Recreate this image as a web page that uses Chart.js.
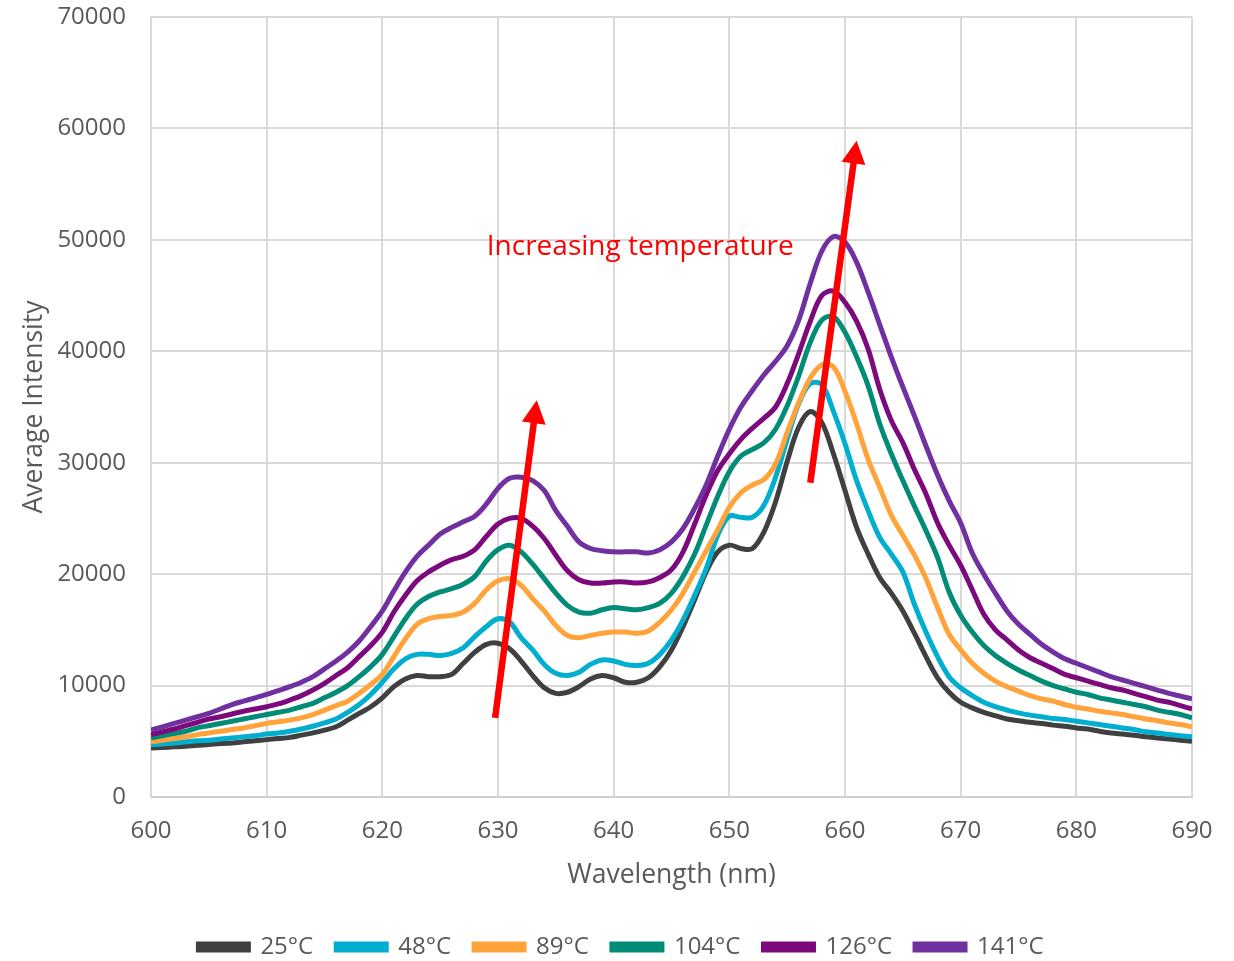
<!DOCTYPE html>
<html>
<head>
<meta charset="utf-8">
<script src="https://cdn.jsdelivr.net/npm/chart.js@4.4.1/dist/chart.umd.min.js"></script>
<style>
html,body{margin:0;padding:0;background:#fff;}
canvas{display:block;}
</style>
</head>
<body>
<canvas id="c" width="1234" height="961"></canvas>
<script>
const wavelengths = [];
for (let w = 600; w <= 690; w++) wavelengths.push(w);

const seriesLabels = ["25°C", "48°C", "89°C", "104°C", "126°C", "141°C"];
const seriesColors = ["#404040", "#00AECF", "#FFA33A", "#008C76", "#7C0A7C", "#7030A0"];

const t25 = [4400,4450,4500,4550,4650,4700,4800,4850,4950,5050,
  5150,5250,5350,5550,5750,6000,6300,6900,7500,8100,
  8900,9900,10600,10900,10800,10800,11000,12000,13000,13700,
  13800,13300,12200,10900,9800,9300,9400,9900,10600,10900,
  10700,10300,10300,10700,11700,13200,15300,17700,20200,22000,
  22600,22300,22300,23800,26500,30100,33200,34600,33600,30800,
  27500,24200,21800,19700,18300,16700,14700,12600,10700,9400,
  8500,8000,7600,7300,7000,6850,6700,6600,6450,6350,
  6200,6100,5900,5750,5650,5550,5400,5300,5200,5100,5000];

const t48 = [4700,4750,4850,4950,5050,5100,5200,5300,5400,5500,
  5650,5750,5900,6100,6350,6650,7000,7600,8300,9200,
  10300,11500,12400,12800,12800,12700,12900,13400,14400,15300,
  16000,15700,14300,13200,11900,11100,10900,11200,11900,12300,
  12200,11900,11800,12000,12800,14100,15900,18100,20500,23500,
  25200,25100,25100,26200,28700,32100,35300,37100,37000,34600,
  31700,28400,25700,23300,21800,20200,17300,14800,12600,10800,
  9800,9100,8500,8100,7800,7550,7350,7200,7050,6950,
  6800,6650,6500,6350,6200,6050,5850,5750,5600,5500,5400];

const t89 = [4950,5100,5250,5400,5600,5750,5900,6050,6200,6400,
  6600,6750,6900,7100,7400,7800,8200,8600,9300,10100,
  11000,12600,14200,15500,16000,16200,16300,16600,17400,18600,
  19400,19600,19000,17800,16700,15400,14500,14300,14500,14700,
  14800,14800,14700,14900,15700,16800,18300,20200,22100,24000,
  26000,27300,28000,28500,29900,32700,35400,37600,38800,38600,
  36400,33500,30300,27800,25300,23500,21700,19600,17000,14600,
  13200,12000,11100,10400,9900,9500,9100,8800,8600,8300,
  8050,7900,7700,7550,7400,7200,7000,6850,6650,6500,6300];

const t104 = [5300,5500,5700,5900,6200,6400,6600,6800,7000,7200,
  7400,7600,7800,8100,8400,8900,9400,10000,10800,11700,
  12800,14400,16000,17300,18000,18400,18700,19100,19800,21200,
  22200,22600,22000,20900,19600,18300,17200,16600,16500,16800,
  17000,16900,16800,17000,17400,18300,19800,21800,24400,27000,
  29200,30600,31200,31800,33000,35100,37800,40800,42800,43100,
  41700,39500,36900,33500,30800,28400,26100,23900,21500,18400,
  16300,14800,13600,12700,12000,11400,10900,10400,10000,9700,
  9400,9200,8900,8700,8500,8300,8100,7800,7600,7400,7100];

const t126 = [5600,5850,6100,6400,6700,7000,7200,7450,7700,7900,
  8100,8350,8700,9100,9600,10200,10900,11600,12600,13600,
  14800,16600,18100,19400,20200,20800,21300,21600,22200,23400,
  24500,25000,25000,24300,23200,21700,20300,19500,19200,19200,
  19300,19300,19200,19300,19700,20400,22000,24500,27100,29300,
  30800,32100,33100,34000,35000,37100,39800,42700,45000,45400,
  44400,42700,40200,36600,33800,31800,29400,27200,24600,22600,
  20800,18600,16400,15000,14100,13200,12500,12000,11500,11000,
  10700,10400,10100,9800,9600,9300,9000,8700,8500,8200,7900];

const t141 = [6000,6300,6600,6900,7200,7500,7900,8300,8600,8900,
  9200,9550,9900,10300,10800,11500,12200,13000,14000,15300,
  16700,18500,20200,21600,22600,23600,24200,24700,25200,26300,
  27700,28600,28700,28400,27500,25700,24300,22900,22300,22100,
  22000,22000,22000,21900,22200,22900,24100,25900,28000,30600,
  33000,35000,36500,37900,39100,40500,42800,46100,49000,50300,
  49800,48000,45300,42400,39500,36800,34200,31500,28900,26600,
  24600,21900,20000,18300,16700,15500,14600,13700,13000,12400,
  12000,11600,11200,10800,10500,10200,9900,9600,9300,9050,8800];

const seriesValues = [t25, t48, t89, t104, t126, t141];

// annotation arrows in data coordinates: [x0, y0, x1(tip), y1(tip)]
const arrowA = [629.75, 7100, 633.35, 35600];
const arrowB = [657.0, 28200, 661.0, 58900];
const noteText = "Increasing temperature";
const notePos = [642.3, 49400];

const annotationPlugin = {
  id: 'annot',
  afterLayout(chart) {
    if (chart.legend) {
      chart.legend.top += 8; chart.legend.bottom += 8;
      chart.legend.left += 25; chart.legend.right += 25;
    }
  },
  afterDatasetsDraw(chart) {
    const {ctx, scales: {x, y}} = chart;
    ctx.save();
    const drawArrow = (a) => {
      const x0 = x.getPixelForValue(a[0]), y0 = y.getPixelForValue(a[1]);
      const x1 = x.getPixelForValue(a[2]), y1 = y.getPixelForValue(a[3]);
      const ang = Math.atan2(y1 - y0, x1 - x0);
      const headLen = 23, headW = 12;
      const bx = x1 - headLen * Math.cos(ang), by = y1 - headLen * Math.sin(ang);
      ctx.strokeStyle = '#FF0000';
      ctx.fillStyle = '#FF0000';
      ctx.lineWidth = 6.5;
      ctx.lineCap = 'butt';
      ctx.beginPath();
      ctx.moveTo(x0, y0);
      ctx.lineTo(bx + 2 * Math.cos(ang), by + 2 * Math.sin(ang));
      ctx.stroke();
      ctx.beginPath();
      ctx.moveTo(x1, y1);
      ctx.lineTo(bx + headW * Math.sin(ang), by - headW * Math.cos(ang));
      ctx.lineTo(bx - headW * Math.sin(ang), by + headW * Math.cos(ang));
      ctx.closePath();
      ctx.fill();
    };
    drawArrow(arrowA);
    drawArrow(arrowB);
    ctx.font = '28px "Open Sans"';
    ctx.fillStyle = '#FF0000';
    ctx.textAlign = 'center';
    ctx.textBaseline = 'middle';
    ctx.fillText(noteText, x.getPixelForValue(notePos[0]), y.getPixelForValue(notePos[1]));
    ctx.restore();
  }
};

const datasets = seriesLabels.map((lab, i) => ({
  label: lab,
  data: wavelengths.map((w, k) => ({x: w, y: seriesValues[i][k]})),
  borderColor: seriesColors[i],
  backgroundColor: seriesColors[i],
  borderWidth: 5,
  pointRadius: 0,
  tension: 0.35,
  fill: false,
  order: seriesLabels.length - i
}));

new Chart(document.getElementById('c'), {
  type: 'line',
  data: { datasets },
  plugins: [annotationPlugin],
  options: {
    responsive: false,
    devicePixelRatio: 1,
    animation: false,
    layout: { padding: { left: 0, right: 42, top: 17, bottom: 0 } },
    plugins: {
      tooltip: { enabled: false },
      legend: {
        position: 'bottom',
        labels: {
          boxWidth: 50,
          boxHeight: 6,
          padding: 23,
          color: '#595959',
          font: { family: 'Open Sans', size: 24 },
          sort: (a, b) => a.datasetIndex - b.datasetIndex
        }
      }
    },
    scales: {
      x: {
        type: 'linear',
        min: 600, max: 690,
        afterFit: (s) => { s.height = 107; s.paddingLeft = 0; s.paddingRight = 0; },
        ticks: { stepSize: 10, padding: 20, color: '#595959', font: { family: 'Open Sans', size: 24 }, maxRotation: 0 },
        grid: { color: '#D9D9D9', lineWidth: 2, drawTicks: false },
        border: { color: '#D0D0D0', width: 2 },
        title: { display: true, text: 'Wavelength (nm)', color: '#595959', font: { family: 'Open Sans', size: 26.5 }, padding: { top: 0, bottom: 13 } }
      },
      y: {
        min: 0, max: 70000,
        afterFit: (s) => { s.width = 151; s.paddingTop = 0; s.paddingBottom = 0; },
        ticks: { stepSize: 10000, padding: 25, color: '#595959', font: { family: 'Open Sans', size: 24 }, callback: (v) => String(v) },
        grid: { color: '#D9D9D9', lineWidth: 2, drawTicks: false },
        border: { color: '#D9D9D9', width: 2 },
        title: { display: true, text: 'Average Intensity', color: '#595959', font: { family: 'Open Sans', size: 26.5 }, padding: { top: 19, bottom: 0 } }
      }
    }
  }
});
</script>
</body>
</html>
